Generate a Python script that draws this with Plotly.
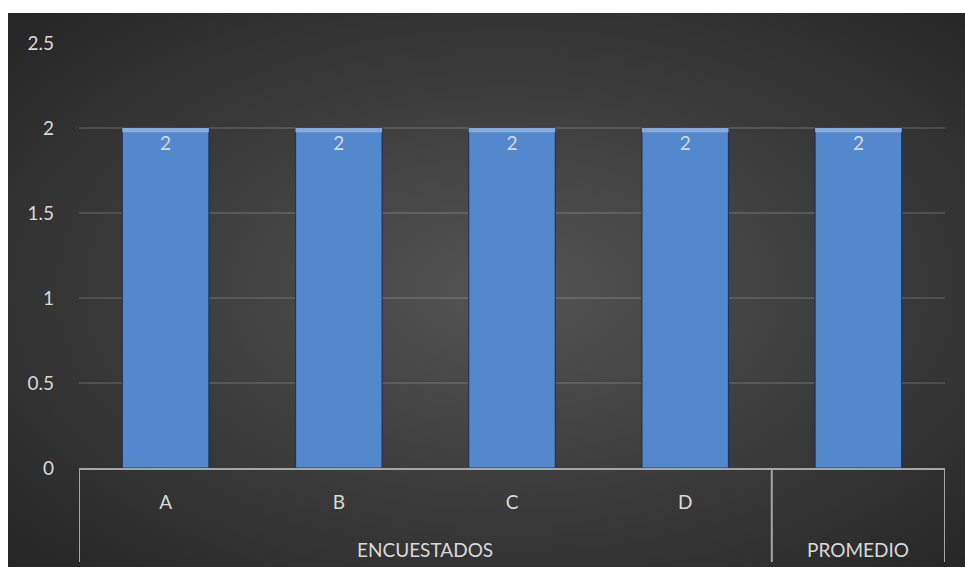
import base64
import plotly.graph_objects as go

# Survey scores per respondent plus the overall average
categories = ["A", "B", "C", "D", "PROMEDIO"]
values = [2, 2, 2, 2, 2]
inner_labels = ["A", "B", "C", "D", ""]
groups = [("ENCUESTADOS", 0, 3), ("PROMEDIO", 4, 4)]
y_ticks = [0, 0.5, 1, 1.5, 2, 2.5]
y_tick_text = ["0", "0.5", "1", "1.5", "2", "2.5"]

W, H = 965, 567
L, R, T, B = 79, 20, 43, 99
plot_w = W - L - R
plot_h = H - T - B

FONT = "Lato"
FS = 19
TXT = "#d9d9d9"
LINE = "#a6a6a6"

xs = list(range(len(categories)))

# dark radial backdrop (lighter in the middle)
svg = (
    "<svg xmlns='http://www.w3.org/2000/svg' width='957' height='554' preserveAspectRatio='none'>"
    "<defs><radialGradient id='g' cx='0.52' cy='0.5' r='0.72'>"
    "<stop offset='0' stop-color='#545454'/>"
    "<stop offset='0.55' stop-color='#3a3a3a'/>"
    "<stop offset='1' stop-color='#252525'/>"
    "</radialGradient></defs>"
    "<rect width='957' height='554' fill='url(#g)'/></svg>"
)
bg_src = "data:image/svg+xml;base64," + base64.b64encode(svg.encode()).decode()

fig = go.Figure()

# main bars
fig.add_trace(go.Bar(
    x=xs, y=values, width=0.5,
    marker=dict(color="#5488cc", line=dict(color="rgba(25,45,85,0.85)", width=1.2)),
    text=[str(v) for v in values], textposition="inside", insidetextanchor="end",
    textfont=dict(family=FONT, size=FS, color=TXT),
    hoverinfo="skip", showlegend=False,
))

# bevel highlight along the top of each bar
bevel = 0.025
fig.add_trace(go.Bar(
    x=xs, y=[bevel] * len(values), base=[v - bevel for v in values], width=0.5,
    marker=dict(color="#84aadf", line=dict(width=0)),
    hoverinfo="skip", showlegend=False,
))

shapes = []
div_bottom = (T + plot_h - 562) / plot_h
for xv in [-0.5] + [g[2] + 0.5 for g in groups]:
    shapes.append(dict(type="line", xref="x", yref="paper", x0=xv, x1=xv,
                       y0=0, y1=div_bottom, line=dict(color=LINE, width=2)))

annotations = []
grp_y = (T + plot_h - 549) / plot_h
for name, a, b in groups:
    annotations.append(dict(text=name, x=(a + b) / 2, y=grp_y, xref="x", yref="paper",
                            showarrow=False, yanchor="middle",
                            font=dict(family=FONT, size=FS, color=TXT)))

bg_x0 = (8 - L) / plot_w
bg_y0 = (T + plot_h - 13) / plot_h
fig.update_layout(
    width=W, height=H,
    margin=dict(l=L, r=R, t=T, b=B),
    paper_bgcolor="white", plot_bgcolor="rgba(0,0,0,0)",
    barmode="overlay",
    images=[dict(source=bg_src, xref="paper", yref="paper", x=bg_x0, y=bg_y0,
                 sizex=(W - 8) / plot_w, sizey=(H - 13) / plot_h,
                 xanchor="left", yanchor="top", sizing="stretch", layer="below")],
    shapes=shapes, annotations=annotations,
    xaxis=dict(range=[-0.5, 4.5], tickvals=xs, ticktext=inner_labels,
               showgrid=False, zeroline=False, showline=True, linecolor=LINE, linewidth=2,
               ticks="", ticklabelstandoff=16,
               tickfont=dict(family=FONT, size=FS, color=TXT)),
    yaxis=dict(range=[0, 2.5], tickvals=y_ticks, ticktext=y_tick_text,
               showgrid=True, gridcolor="rgba(255,255,255,0.13)", gridwidth=2,
               zeroline=False, showline=False, ticks="", ticklabelstandoff=24,
               tickfont=dict(family=FONT, size=FS, color=TXT)),
)

fig.write_html("out.html")
